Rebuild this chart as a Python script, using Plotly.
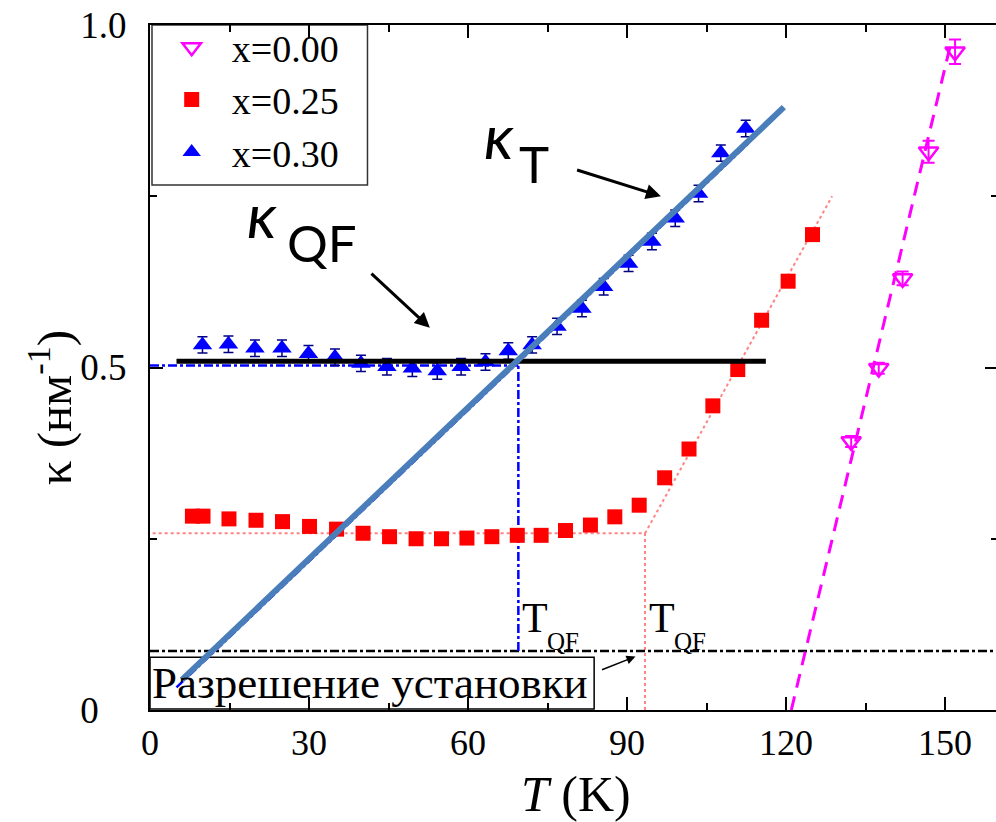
import plotly.graph_objects as go

# ---------------- data ----------------
T_x000 = [132.3, 137.5, 142.0, 146.9, 151.9]
K_x000 = [0.392, 0.499, 0.630, 0.815, 0.961]
E_x000 = [0.008, 0.008, 0.010, 0.016, 0.018]

T_x025 = [8.0, 10.0, 14.9, 20.0, 25.0, 30.1, 35.2, 40.2, 45.2, 50.2, 55.0, 59.8, 64.5, 69.3,
          73.8, 78.4, 83.1, 87.7, 92.3, 97.1, 101.7, 106.2, 110.9, 115.4, 120.4, 125.0]
K_x025 = [0.283, 0.283, 0.279, 0.277, 0.275, 0.268, 0.264, 0.258, 0.253, 0.250, 0.250, 0.251, 0.253, 0.255,
          0.255, 0.262, 0.270, 0.282, 0.299, 0.339, 0.381, 0.444, 0.497, 0.569, 0.626, 0.694]

T_x030 = [9.9, 14.8, 19.8, 24.9, 29.9, 34.9, 39.8, 44.7, 49.5, 54.2, 58.7, 63.3, 67.6, 72.1,
          76.8, 81.5, 85.6, 90.3, 94.7, 99.1, 103.5, 107.7, 112.4]
K_x030 = [0.533, 0.534, 0.528, 0.528, 0.520, 0.515, 0.506, 0.501, 0.499, 0.495, 0.501, 0.508, 0.524, 0.533,
          0.560, 0.586, 0.618, 0.652, 0.684, 0.718, 0.754, 0.813, 0.849]

# guide / fit lines (data coordinates)
fit000_T, fit000_K = [121.0, 151.0], [0.0, 0.97]
red_h_T, red_h_K = [0.5, 93.4], [0.258, 0.258]
red_v_T, red_v_K = [93.4, 93.4], [0.0, 0.258]
red_s_T, red_s_K = [93.4, 128.7], [0.258, 0.75]
blue_h_T, blue_h_K = [0.0, 69.5], [0.503, 0.503]
blue_v_T, blue_v_K = [69.5, 69.5], [0.086, 0.503]
blue_s_T, blue_s_K = [5.0, 113.0], [0.033, 0.828]
res_T, res_K = [0.0, 160.0], [0.086, 0.086]
kqf_T, kqf_K = [5.0, 116.2], [0.509, 0.509]
kt_T, kt_K = [6.0, 119.6], [0.044, 0.880]

x_ticks = [0, 30, 60, 90, 120, 150]
y_ticks = [0, 0.5, 1.0]
y_ticktext = ["0&nbsp;&nbsp;&nbsp;", "0.5", "1.0"]

SERIF = "Liberation Serif, Times New Roman, serif"
SANS = "Lato, Open Sans, sans-serif"

W, H = 1000, 822
ML, MR, MT, MB = 150, 0, 25, 112
PW, PH = W - ML - MR, H - MT - MB

fig = go.Figure()

def line(xs, ys, color, width, dash="solid"):
    fig.add_trace(go.Scatter(x=xs, y=ys, mode="lines", showlegend=False, hoverinfo="skip",
                             line=dict(color=color, width=width, dash=dash)))

line(red_h_T, red_h_K, "rgba(255,90,90,0.75)", 2, "dot")
line(red_v_T, red_v_K, "rgba(255,90,90,0.75)", 2, "dot")
line(red_s_T, red_s_K, "rgba(255,90,90,0.75)", 2, "dot")
line(res_T, res_K, "black", 2.5, "dashdot")
line(fit000_T, fit000_K, "#ff00ff", 3, "14px,9px")
line(blue_h_T, blue_h_K, "#0000ff", 2.5, "dashdot")
line(blue_v_T, blue_v_K, "#0000ff", 2.5, "dashdot")
line(blue_s_T, blue_s_K, "#0000ff", 2.5, "dashdot")

fig.add_trace(go.Scatter(
    x=T_x000, y=K_x000, mode="markers", name="x=0.00",
    marker=dict(symbol="triangle-down-open", size=17, color="#ff00ff", line=dict(width=2.5, color="#ff00ff")),
    error_y=dict(type="data", array=E_x000, color="#ff00ff", thickness=2, width=6)))
fig.add_trace(go.Scatter(
    x=T_x025, y=K_x025, mode="markers", name="x=0.25",
    marker=dict(symbol="square", size=15, color="#ff0000", line=dict(width=0))))
fig.add_trace(go.Scatter(
    x=T_x030, y=K_x030, mode="markers", name="x=0.30",
    marker=dict(symbol="triangle-up", size=17, color="#0000ff", line=dict(width=0)),
    error_y=dict(type="constant", value=0.012, color="#000080", thickness=1.5, width=5)))

line(kqf_T, kqf_K, "black", 5)
line(kt_T, kt_K, "#4a7ebb", 6)

# resolution box
fig.add_shape(type="rect", xref="x", yref="y", x0=0.0, x1=83.8, y0=0.0015, y1=0.077,
              line=dict(color="black", width=1.5), fillcolor="white", layer="below")
# legend frame (pixel box 152..368 x 25..185)
fig.add_shape(type="rect", xref="paper", yref="paper",
              x0=2 / PW, x1=218 / PW, y0=(PH - 160) / PH, y1=1.0,
              line=dict(color="#333333", width=1.5), fillcolor="white", layer="below")

anns = []
def txt(x, y, s, size, font=SERIF, xanchor="center", yanchor="middle"):
    anns.append(dict(x=x, y=y, xref="x", yref="y", text=s, showarrow=False,
                     font=dict(family=font, size=size, color="black"),
                     xanchor=xanchor, yanchor=yanchor))

def arrow(x0, y0, x1, y1, width, head=2, size=1.0):
    anns.append(dict(x=x1, y=y1, ax=x0, ay=y0, xref="x", yref="y", axref="x", ayref="y",
                     text="", showarrow=True, arrowhead=head, arrowsize=size,
                     arrowwidth=width, arrowcolor="black"))

txt(41.6, 0.039, "Разрешение установки", 45)
txt(69.8, 0.135, "T", 42, xanchor="left")
txt(74.6, 0.100, "QF", 25, xanchor="left")
txt(93.7, 0.135, "T", 42, xanchor="left")
txt(98.5, 0.100, "QF", 25, xanchor="left")
txt(65.8, 0.840, "<i>κ</i>", 62, font=SANS)
txt(72.4, 0.798, "T", 51, font=SANS)
txt(21.2, 0.724, "<i>κ</i>", 62, font=SANS)
txt(32.4, 0.682, "QF", 51, font=SANS)

arrow(80.3, 0.789, 96.4, 0.750, 3, 2, 1.0)
arrow(41.5, 0.639, 52.8, 0.558, 3, 2, 1.0)
arrow(85.0, 0.058, 91.6, 0.078, 1.5, 2, 1.2)

# axis titles
anns.append(dict(x=(50 - ML) / PW, y=(710 - 408) / PH, xref="paper", yref="paper",
                 text="κ (нм<sup>-1</sup>)",
                 textangle=-90, showarrow=False, font=dict(family=SERIF, size=49, color="black"),
                 xanchor="center", yanchor="middle"))
anns.append(dict(x=(577 - ML) / PW, y=(710 - 794) / PH, xref="paper", yref="paper", text="<i>T</i> (K)",
                 showarrow=False, font=dict(family=SERIF, size=50, color="black"),
                 xanchor="center", yanchor="middle"))

fig.update_layout(
    width=W, height=H,
    margin=dict(l=ML, r=MR, t=MT, b=MB),
    paper_bgcolor="white", plot_bgcolor="white",
    annotations=anns,
    legend=dict(x=0.002, y=1.0 + 9 / PH, xanchor="left", yanchor="top",
                bgcolor="rgba(0,0,0,0)", borderwidth=0,
                font=dict(family=SERIF, size=38, color="black"),
                itemwidth=70, tracegroupgap=0),
    xaxis=dict(range=[0, 160], tickmode="array", tickvals=x_ticks,
               ticks="inside", ticklen=13, tickwidth=2, tickcolor="black",
               showline=True, linecolor="black", linewidth=2, mirror="ticks",
               showgrid=False, zeroline=False, ticklabelstandoff=0,
               tickfont=dict(family=SERIF, size=36, color="black"),
               minor=dict(dtick=15, ticks="inside", ticklen=7, tickwidth=2, tickcolor="black", showgrid=False)),
    yaxis=dict(range=[0, 1], tickmode="array", tickvals=y_ticks, ticktext=y_ticktext,
               ticks="inside", ticklen=13, tickwidth=2, tickcolor="black",
               showline=True, linecolor="black", linewidth=2, mirror="ticks",
               showgrid=False, zeroline=False, ticklabelstandoff=14,
               tickfont=dict(family=SERIF, size=37, color="black"),
               minor=dict(tickvals=[0.25, 0.75], ticks="inside", ticklen=7, tickwidth=2, tickcolor="black", showgrid=False)),
)

fig.write_html("out.html", config={"displayModeBar": False},
               post_script="document.body.style.margin='0px';document.body.style.overflow='hidden';")
